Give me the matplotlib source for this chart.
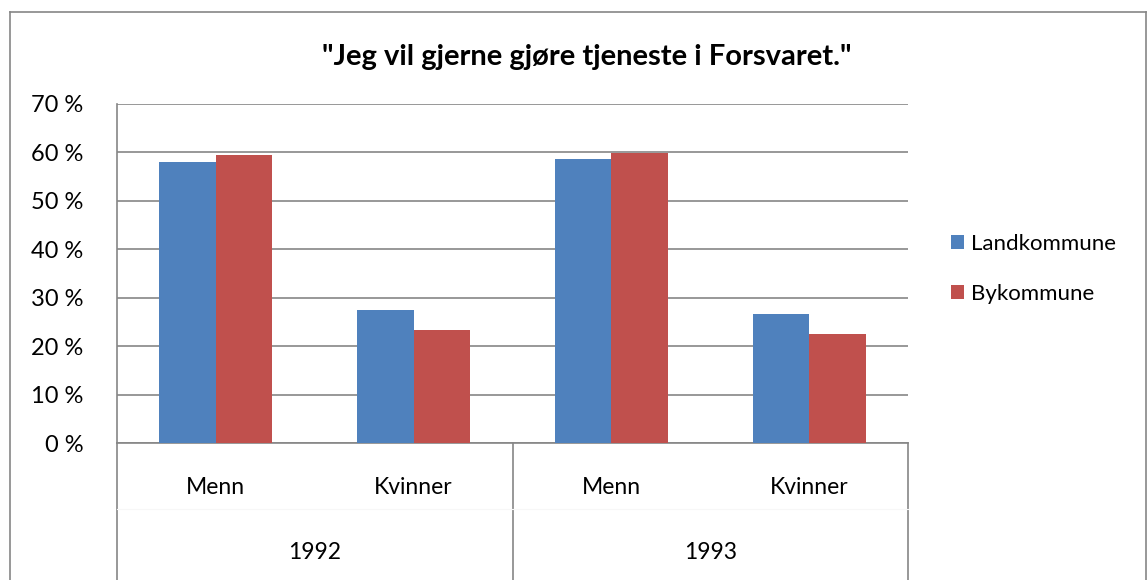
import matplotlib.pyplot as plt
import numpy as np

plt.rcParams['font.family'] = ['Lato', 'DejaVu Sans']

# data
years = ['1992', '1993']
groups = ['Menn', 'Kvinner', 'Menn', 'Kvinner']
landkommune = [58.0, 27.4, 58.7, 26.6]
bykommune = [59.5, 23.3, 59.8, 22.5]
yticks = [0, 10, 20, 30, 40, 50, 60, 70]

blue = '#4f81bd'
red = '#c0504d'
grid_c = '#868686'

fig = plt.figure(figsize=(11.48, 5.8), dpi=100)
ax = fig.add_axes([117/1148, 1 - 443/580, (908-117)/1148, (443-104)/580])

x = np.arange(len(groups))
w = 0.286
ax.bar(x - w/2, landkommune, w, color=blue, label='Landkommune', zorder=3)
ax.bar(x + w/2, bykommune, w, color=red, label='Bykommune', zorder=3)

ax.set_xlim(-0.5, len(groups) - 0.5)
ax.set_ylim(0, 70)
ax.set_yticks(yticks)
ax.set_yticklabels([f'{v} %' for v in yticks], fontsize=17)
ax.yaxis.grid(True, color=grid_c, linewidth=1.2)
ax.set_axisbelow(True)
ax.tick_params(axis='y', length=0, pad=24)
ax.set_xticks([])
for s in ['right', 'top']:
    ax.spines[s].set_visible(False)
for s in ['left', 'bottom']:
    ax.spines[s].set_color(grid_c)
    ax.spines[s].set_linewidth(1.2)

# category labels in two levels
for i, g in enumerate(groups):
    ax.text(i, -9.2, g, ha='center', va='center', fontsize=16.5, clip_on=False)
for j, yr in enumerate(years):
    ax.text(2*j + 0.5, -22.6, yr, ha='center', va='center', fontsize=16.5,
            clip_on=False)

# divider lines below the axis
for xv in [-0.5, 1.5, 3.5]:
    ax.plot([xv, xv], [0, -29], color=grid_c, linewidth=1.2, clip_on=False)
ax.plot([-0.5, 3.5], [-13.7, -13.7], color='#f7f7f7', linewidth=0.8, clip_on=False)

fig.text(587/1148, 1 - 57/580, '"Jeg vil gjerne gjøre tjeneste i Forsvaret."',
         ha='center', va='center', fontsize=21, fontweight='bold')

leg = fig.legend(loc='center left', bbox_to_anchor=(931/1148, 1 - 269/580),
                 frameon=False, fontsize=16, handlelength=0.6, handleheight=0.6,
                 labelspacing=1.35, handletextpad=0.3)

# outer chart border
bc = '#868686'
fig.add_artist(plt.Line2D([10/1148, 10/1148], [0, 1 - 12/580], color=bc, lw=1.2))
fig.add_artist(plt.Line2D([10/1148, 1146/1148], [1 - 12/580, 1 - 12/580], color=bc, lw=1.2))
fig.add_artist(plt.Line2D([1146/1148, 1146/1148], [0, 1 - 12/580], color=bc, lw=1.2))

fig.savefig('out.png', dpi=100)
